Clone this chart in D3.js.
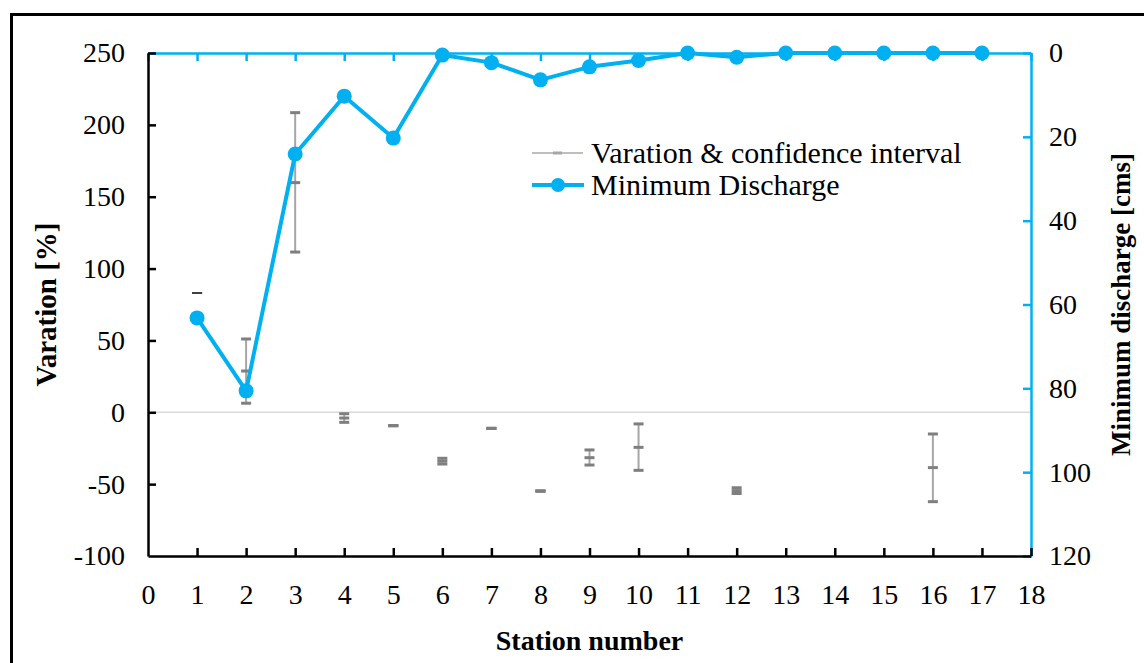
<!DOCTYPE html>
<html>
<head>
<meta charset="utf-8">
<script src="https://cdn.jsdelivr.net/npm/d3@7"></script>
<style>
  body { margin: 0; background: #fff; }
  svg, svg text { font-family: "Times New Roman", "Liberation Serif", "DejaVu Serif", serif; }
</style>
</head>
<body>
<svg id="chart" width="1144" height="663"></svg>
<script>
// minimum discharge per station (cms)
const stations = [1, 2, 3, 4, 5, 6, 7, 8, 9, 10, 11, 12, 13, 14, 15, 16, 17];
const discharge = [63.2, 80.6, 24.1, 10.3, 20.3, 0.5, 2.3, 6.4, 3.3, 1.8, 0, 1.0, 0, 0, 0, 0, 0];

// variation with confidence interval (%)
const varStations = [1, 2, 3, 4, 5, 6, 7, 8, 9, 10, 12, 16];
const varMean = [83, 28.7, 159.8, -4, -9.3, -34, -11.2, -54.8, -31.6, -24.4, -54.5, -38.5];
const varLow = [83, 6.3, 111.5, -7, -9.3, -36, -11.2, -54.8, -36.7, -40.4, -56.5, -62.2];
const varHigh = [83, 51, 208.5, -1, -9.3, -32, -11.2, -54.8, -26.2, -8.1, -52.5, -15.1];

const xTicks = d3.range(0, 19);
const yTicks = [-100, -50, 0, 50, 100, 150, 200, 250];
const y2Ticks = [0, 20, 40, 60, 80, 100, 120];

const width = 1144;
const height = 663;
const margin = { top: 53, right: 113, bottom: 107, left: 148 };
const innerWidth = width - margin.left - margin.right;
const innerHeight = height - margin.top - margin.bottom;
const blue = '#00b0f0';
const serif = '"Times New Roman", "Liberation Serif", "DejaVu Serif", serif';

const svg = d3.select('#chart');

// outer frame
svg.append('rect')
    .attr('x', 11.5)
    .attr('y', 14.5)
    .attr('width', 1200)
    .attr('height', 700)
    .attr('fill', 'none')
    .attr('stroke', '#000')
    .attr('stroke-width', 3);

const g = svg.append('g')
    .attr('transform', `translate(${margin.left}, ${margin.top})`);

const xScale = d3.scaleLinear().domain([0, 18]).range([0, innerWidth]);
const yScale = d3.scaleLinear().domain([-100, 250]).range([innerHeight, 0]);
const y2Scale = d3.scaleLinear().domain([0, 120]).range([0, innerHeight]);

// zero line
g.append('line')
    .attr('x1', 0)
    .attr('x2', innerWidth)
    .attr('y1', yScale(0))
    .attr('y2', yScale(0))
    .attr('stroke', '#d9d9d9')
    .attr('stroke-width', 1.5);

const fmt = d => String(d);

const styleAxis = (sel, color) => {
    sel.attr('font-family', serif);
    sel.selectAll('.domain').attr('stroke', color).attr('stroke-width', 2.5);
    sel.selectAll('.tick line').attr('stroke', color).attr('stroke-width', 2.5);
    sel.selectAll('.tick text')
        .attr('fill', '#000')
        .style('font-size', '28px')
        .style('font-family', serif);
};

// top axis (secondary x, blue, no labels)
const topAxisG = g.append('g')
    .call(d3.axisTop(xScale).tickValues(xTicks).tickSize(-8).tickSizeOuter(0).tickFormat(''));
styleAxis(topAxisG, blue);

// right axis
const rightAxisG = g.append('g')
    .attr('transform', `translate(${innerWidth}, 0)`)
    .call(d3.axisRight(y2Scale).tickValues(y2Ticks).tickSize(-8).tickSizeOuter(0).tickPadding(18).tickFormat(fmt));
styleAxis(rightAxisG, blue);

// left axis
const leftAxisG = g.append('g')
    .call(d3.axisLeft(yScale).tickValues(yTicks).tickSize(-8).tickSizeOuter(0).tickPadding(23).tickFormat(fmt));
styleAxis(leftAxisG, '#000');

// bottom axis
const bottomAxisG = g.append('g')
    .attr('transform', `translate(0, ${innerHeight})`)
    .call(d3.axisBottom(xScale).tickValues(xTicks).tickSize(-8).tickSizeOuter(0).tickPadding(28).tickFormat(fmt));
styleAxis(bottomAxisG, '#000');
bottomAxisG.selectAll('.tick').filter(d => d === 0).select('line').remove();
leftAxisG.selectAll('.tick').filter(d => d === -100).select('line').remove();

// error bars
const varData = varStations.map((s, i) => ({ s, mean: varMean[i], low: varLow[i], high: varHigh[i] }));
const capW = 5;

const bars = g.append('g').selectAll('g')
    .data(varData)
    .enter().append('g');

bars.append('line')
    .attr('x1', d => xScale(d.s))
    .attr('x2', d => xScale(d.s))
    .attr('y1', d => yScale(d.high))
    .attr('y2', d => yScale(d.low))
    .attr('stroke', '#a6a6a6')
    .attr('stroke-width', 2);

['low', 'mean', 'high'].forEach(k => {
    bars.append('line')
        .attr('x1', d => xScale(d.s) - capW)
        .attr('x2', d => xScale(d.s) + capW)
        .attr('y1', d => yScale(d[k]))
        .attr('y2', d => yScale(d[k]))
        .attr('stroke', d => d.s === 1 ? '#404040' : '#7f7f7f')
        .attr('stroke-width', d => d.s === 1 ? 2 : 3);
});

// minimum discharge line
const line = d3.line()
    .x(d => xScale(d[0]))
    .y(d => y2Scale(d[1]));

const lineData = stations.map((s, i) => [s, discharge[i]]);

g.append('path')
    .datum(lineData)
    .attr('d', line)
    .attr('fill', 'none')
    .attr('stroke', blue)
    .attr('stroke-width', 4)
    .attr('stroke-linejoin', 'round');

g.selectAll('circle.pt')
    .data(lineData)
    .enter().append('circle')
        .attr('class', 'pt')
        .attr('cx', d => xScale(d[0]))
        .attr('cy', d => y2Scale(d[1]))
        .attr('r', 7.5)
        .attr('fill', blue);

// axis titles
svg.append('text')
    .attr('transform', `translate(56, ${margin.top + innerHeight / 2}) rotate(-90)`)
    .attr('text-anchor', 'middle')
    .style('font-size', '29px')
    .style('font-weight', 'bold')
    .text('Varation [%]');

svg.append('text')
    .attr('transform', `translate(1130, ${margin.top + innerHeight / 2}) rotate(-90)`)
    .attr('text-anchor', 'middle')
    .style('font-size', '27px')
    .style('font-weight', 'bold')
    .text('Minimum discharge [cms]');

svg.append('text')
    .attr('x', margin.left + innerWidth / 2)
    .attr('y', 650)
    .attr('text-anchor', 'middle')
    .style('font-size', '28px')
    .style('font-weight', 'bold')
    .text('Station number');

// legend
const legend = svg.append('g').attr('transform', 'translate(532, 153)');

legend.append('line')
    .attr('x1', 0).attr('x2', 51).attr('y1', 0).attr('y2', 0)
    .attr('stroke', '#7f7f7f').attr('stroke-width', 1.2);
legend.append('line')
    .attr('x1', 21).attr('x2', 30).attr('y1', 0).attr('y2', 0)
    .attr('stroke', '#a6a6a6').attr('stroke-width', 3);
legend.append('text')
    .attr('x', 59).attr('y', 10)
    .style('font-size', '30px')
    .text('Varation & confidence interval');

legend.append('line')
    .attr('x1', 0).attr('x2', 52).attr('y1', 32).attr('y2', 32)
    .attr('stroke', blue).attr('stroke-width', 4);
legend.append('circle')
    .attr('cx', 26).attr('cy', 32).attr('r', 7)
    .attr('fill', blue);
legend.append('text')
    .attr('x', 59).attr('y', 42)
    .style('font-size', '30px')
    .text('Minimum Discharge');
</script>
</body>
</html>
